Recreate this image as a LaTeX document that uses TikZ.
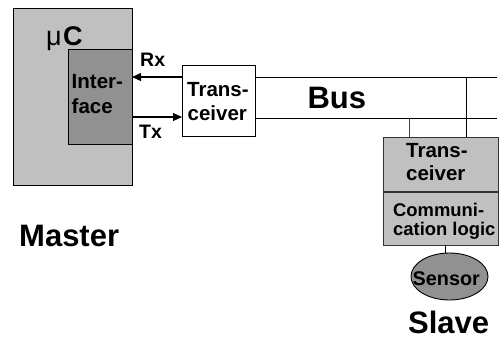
\documentclass[tikz,border=0pt]{standalone}
\usepackage{fontspec}
\setmainfont{Liberation Sans}
\usetikzlibrary{shapes.geometric,arrows.meta}
\definecolor{lightg}{RGB}{192,192,192}
\definecolor{darkg}{RGB}{145,145,145}
\tikzset{
  box/.style={draw=black, line width=1.1pt, rectangle, inner sep=0pt},
  txt/.style={font=\bfseries\fontsize{20.5}{22}\selectfont, inner sep=0pt, anchor=base west},
  txts/.style={font=\bfseries\fontsize{18.4}{20}\selectfont, inner sep=0pt, anchor=base west},
  bigtxt/.style={font=\bfseries\fontsize{31}{33}\selectfont, inner sep=0pt, anchor=base west},
  sig/.style={line width=1.1pt, -{Triangle[length=9pt,width=8pt]}},
  wire/.style={line width=0.9pt},
}
\begin{document}
\begin{tikzpicture}[x=1pt,y=-1pt]
\useasboundingbox (0,0) rectangle (499,346);
% Master
\node[box, fill=lightg, minimum width=119pt, minimum height=177pt, anchor=north west] (uc) at (13,8) {};
\node[anchor=base west, inner sep=0pt] (mu) at (46,45) {\fontsize{27}{28}\selectfont μ};
\node[txt, font=\bfseries\fontsize{27}{28}\selectfont] (c) at ([xshift=1pt]mu.base east) {C};
\node[box, fill=darkg, minimum width=64pt, minimum height=95pt, anchor=north west] (if) at (68,49) {};
\node[txt] (if1) at (71.5,88.3) {Inter-};
\node[txt] (if2) at (71.5,113) {face};
% Transceiver master
\node[box, fill=white, minimum width=73pt, minimum height=71pt, anchor=north west] (tr) at (182,65) {};
\node[txt] (tr1) at (187,96.7) {Trans-};
\node[txt] (tr2) at (187.5,120) {ceiver};
% Rx / Tx
\coordinate (rxs) at (182,77);
\coordinate (rxe) at (132,77);
\coordinate (txs) at (132,117);
\coordinate (txe) at (182,117);
\draw[sig] (rxs) -- (rxe);
\draw[sig] (txs) -- (txe);
\node[txt, font=\bfseries\fontsize{19.5}{20}\selectfont] (rx) at (140,66.7) {Rx};
\node[txt, font=\bfseries\fontsize{19.5}{20}\selectfont] (tx) at (139,138) {Tx};
% Bus
\coordinate (b1s) at (255,77);
\coordinate (b1e) at (497,77);
\coordinate (b2s) at (255,118);
\coordinate (b2e) at (497,118);
\draw[wire] (b1s) -- (b1e);
\draw[wire] (b2s) -- (b2e);
\node[bigtxt] (bus) at (307.3,108.3) {Bus};
% Slave
\node[box, fill=lightg, draw=black!80, minimum width=115pt, minimum height=108pt, anchor=north west] (sl) at (383,137) {};
\coordinate (divl) at (383,192);
\coordinate (divr) at (498,192);
\draw[line width=1.1pt, black!80] (divl) -- (divr);
\node[txt] (sl1) at (406,157.7) {Trans-};
\node[txt] (sl2) at (406,180) {ceiver};
\node[txts] (cl1) at (393,216.7) {Communi-};
\node[txts] (cl2) at (393,235) {cation logic};
\coordinate (v1t) at (466.5,77);
\coordinate (v1b) at (466.5,137);
\coordinate (v2t) at (409,118);
\coordinate (v2b) at (409,137);
\draw[wire] (v1t) -- (v1b);
\draw[wire, black!75] (v2t) -- (v2b);
\node[ellipse, draw=black, line width=0.9pt, fill=darkg, minimum width=77pt, minimum height=47pt, inner sep=0pt] (sensor) at (449.5,276.5) {};
\node[txt, font=\bfseries\fontsize{19.8}{20}\selectfont] (sensortxt) at (412.5,285) {Sensor};
\coordinate (sb) at (445.5,245);
\draw[wire] (sb) -- (sb |- sensor.north);
% Labels
\node[bigtxt] (master) at (19,246) {Master};
\node[bigtxt] (slave) at (408,333) {Slave};
\end{tikzpicture}
\end{document}
